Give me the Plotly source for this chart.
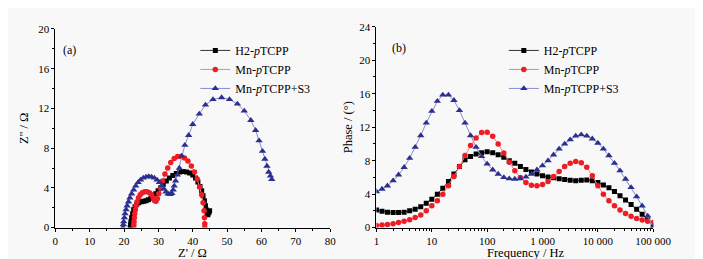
import plotly.graph_objects as go

# ---------------- data ----------------
series_names = ["H2-<i>p</i>TCPP", "Mn-<i>p</i>TCPP", "Mn-<i>p</i>TCPP+S3"]

# (a) Nyquist plot: Z' / Ohm, Z'' / Ohm
h2_zre = [21.8, 21.9, 22.0, 22.2, 22.5, 22.8, 23.2, 23.7, 24.3, 25.0, 25.7, 26.4, 27.1, 27.8,
          28.5, 29.2, 29.9, 30.6, 31.4, 32.3, 33.2, 34.2, 35.2, 36.2, 37.2, 38.2, 39.1, 40.0,
          40.8, 41.5, 42.1, 42.6, 43.0, 43.4, 43.7, 43.9, 44.1, 44.4, 44.7, 44.9]
h2_zim = [0.0, 0.3, 0.6, 1.0, 1.4, 1.8, 2.1, 2.35, 2.5, 2.6, 2.65, 2.7, 2.8, 2.95,
          3.15, 3.4, 3.7, 4.0, 4.35, 4.7, 5.0, 5.25, 5.45, 5.6, 5.65, 5.6, 5.5, 5.3,
          5.0, 4.6, 4.15, 3.7, 3.2, 2.7, 2.2, 1.8, 1.4, 1.3, 1.5, 1.7]

mn_zre = [22.8, 22.85, 22.9, 23.0, 23.1, 23.3, 23.5, 23.8, 24.2, 24.7, 25.3, 26.0, 26.7, 27.4,
          28.0, 28.5, 28.9, 29.3, 29.7, 30.1, 30.6, 31.2, 31.9, 32.7, 33.6, 34.6, 35.6, 36.6,
          37.6, 38.6, 39.6, 40.5, 41.3, 42.0, 42.6, 43.0, 43.3, 43.4, 43.5, 43.5]
mn_zim = [0.0, 0.3, 0.6, 1.0, 1.4, 1.8, 2.2, 2.6, 3.0, 3.3, 3.5, 3.6, 3.6, 3.5,
          3.3, 3.0, 2.7, 2.65, 2.9, 3.4, 4.0, 4.7, 5.4, 6.0, 6.55, 6.95, 7.15, 7.15,
          7.0, 6.7, 6.2, 5.6, 4.9, 4.1, 3.3, 2.5, 1.7, 1.0, 0.4, 0.0]

s3_zre = [19.7, 19.8, 19.9, 20.1, 20.3, 20.6, 20.9, 21.3, 21.7, 22.2, 22.8, 23.4, 24.1, 24.8,
          25.6, 26.4, 27.2, 28.0, 28.8, 29.6, 30.3, 31.0, 31.6, 32.2, 32.8, 33.4, 33.9, 34.3,
          34.6, 35.0, 35.5, 36.1, 36.8, 37.7, 38.8, 40.0, 41.9, 43.7, 45.9, 48.4, 50.7, 53.0,
          55.0, 56.9, 58.3, 59.3, 60.3, 61.0, 61.6, 62.1, 62.6, 63.0]
s3_zim = [0.0, 0.3, 0.6, 1.0, 1.4, 1.8, 2.2, 2.6, 3.0, 3.4, 3.8, 4.2, 4.55, 4.8,
          5.0, 5.1, 5.15, 5.1, 5.0, 4.8, 4.55, 4.25, 3.9, 3.6, 3.4, 3.35, 3.45, 3.8,
          4.2, 4.7, 5.3, 6.0, 7.2, 8.3, 9.3, 10.4, 11.45, 12.35, 12.9, 13.1, 12.9, 12.45,
          11.75, 10.8, 9.8, 8.75, 7.7, 6.9, 6.2, 5.6, 5.2, 4.85]

# (b) Bode phase plot
freq_hz = [1, 1.26, 1.58, 2, 2.51, 3.16, 3.98, 5.01, 6.31, 7.94,
           10, 12.6, 15.8, 20, 25.1, 31.6, 39.8, 50.1, 63.1, 79.4,
           100, 126, 158, 200, 251, 316, 398, 501, 631, 794,
           1000, 1259, 1585, 1995, 2512, 3162, 3981, 5012, 6310, 7943,
           10000, 12589, 15849, 19953, 25119, 31623, 39811, 50119, 63096, 79433,
           100000]
h2_phase = [2.1, 1.95, 1.85, 1.8, 1.8, 1.85, 2.0, 2.2, 2.5, 2.9,
            3.4, 4.0, 4.7, 5.5, 6.4, 7.3, 8.1, 8.5, 8.8, 8.95,
            9.05, 8.95, 8.7, 8.4, 8.0, 7.7, 7.3, 6.95, 6.65, 6.4,
            6.2, 6.05, 5.95, 5.85, 5.75, 5.65, 5.6, 5.65, 5.7, 5.6,
            5.4, 5.1, 4.75, 4.3, 3.8, 3.3, 2.75, 2.2, 1.6, 0.9,
            0.3]
mn_phase = [0.25, 0.3, 0.38, 0.47, 0.6, 0.75, 0.95, 1.2, 1.5, 2.0,
            2.6, 3.2, 4.0, 5.0, 6.1, 7.3, 8.6, 9.8, 10.7, 11.35,
            11.4, 10.9, 10.0, 8.9, 7.8, 6.8, 6.0, 5.4, 5.05, 5.0,
            5.15, 5.5, 6.1, 6.7, 7.3, 7.7, 7.9, 7.75, 7.2, 6.2,
            5.0, 4.0, 3.2, 2.6, 2.1, 1.7, 1.35, 1.1, 0.9, 0.75,
            0.6]
s3_phase = [4.3, 4.6, 5.0, 5.6, 6.3, 7.2, 8.3, 9.6, 11.0, 12.5,
            13.9, 15.1, 15.85, 15.85, 15.2, 14.0, 12.5, 11.0, 9.6, 8.5,
            7.6, 6.9, 6.4, 6.0, 5.85, 5.8, 5.85, 6.05, 6.4, 6.9,
            7.4, 8.0, 8.7, 9.4, 10.0, 10.5, 10.95, 11.1, 10.95, 10.6,
            10.1, 9.4, 8.6, 7.7, 6.8, 5.8, 4.8, 3.7, 2.6, 1.4,
            0.1]

x_tick_vals_b = [1, 10, 100, 1000, 10000, 100000]
x_tick_text_b = ["1", "10", "100", "1 000", "10 000", "100 000"]

# ---------------- styles ----------------
FONT = "Liberation Serif"
styles = [
    dict(line=dict(color="#333333", width=1), marker=dict(symbol="square", size=5, color="black")),
    dict(line=dict(color="#ff7a7a", width=1), marker=dict(symbol="circle", size=5.5, color="#ee1c24")),
    dict(line=dict(color="#8a8ad0", width=1), marker=dict(symbol="triangle-up", size=6.5, color="#2b2f8f")),
]

fig = go.Figure()
nyq = [(h2_zre, h2_zim), (mn_zre, mn_zim), (s3_zre, s3_zim)]
for name, (xr, yi), st in zip(series_names, nyq, styles):
    fig.add_trace(go.Scatter(x=xr, y=yi, mode="lines+markers", name=name,
                             line=st["line"], marker=st["marker"],
                             xaxis="x", yaxis="y", legend="legend"))
bode = [h2_phase, mn_phase, s3_phase]
for name, ph, st in zip(series_names, bode, styles):
    fig.add_trace(go.Scatter(x=freq_hz, y=ph, mode="lines+markers", name=name,
                             line=st["line"], marker=st["marker"],
                             xaxis="x2", yaxis="y2", legend="legend2"))

W, H = 703, 259
axis_common = dict(showline=True, linecolor="black", linewidth=1, ticks="outside",
                   ticklen=3, tickcolor="black", showgrid=False, zeroline=False,
                   tickfont=dict(family=FONT, size=11, color="black"),
                   title_font=dict(family=FONT, size=12.5, color="black"),
                   mirror=False)

title_font = dict(family=FONT, size=12.5, color="black")
bg = "#f8f8f8"
fig.update_layout(
    width=W, height=H,
    margin=dict(l=0, r=0, t=0, b=0),
    paper_bgcolor=bg, plot_bgcolor=bg,
    font=dict(family=FONT, color="black"),
    xaxis=dict(axis_common, domain=[45.7 / W, 329 / W], range=[0, 80], dtick=10,
               minor=dict(ticks="outside", ticklen=2, dtick=5, tickcolor="black"),
               anchor="y"),
    yaxis=dict(axis_common, domain=[(H - 224) / H, (H - 15.7) / H], range=[0, 20], dtick=4,
               minor=dict(ticks="outside", ticklen=2, dtick=2, tickcolor="black"),
               title=dict(text="Z'' / Ω", standoff=6), anchor="x"),
    xaxis2=dict(axis_common, type="log", domain=[376.7 / W, 662 / W], range=[0, 5],
                tickvals=x_tick_vals_b, ticktext=x_tick_text_b,
                minor=dict(ticks="outside", ticklen=2, dtick="D1", tickcolor="black"),
                anchor="y2"),
    yaxis2=dict(axis_common, domain=[(H - 224) / H, (H - 13.3) / H], range=[0, 24], dtick=4,
                minor=dict(ticks="outside", ticklen=2, dtick=2, tickcolor="black"),
                title=dict(text="Phase / (°)", standoff=3), anchor="x2"),
    legend=dict(x=190 / W, y=(H - 23) / H, xanchor="left", yanchor="top",
                bgcolor="rgba(0,0,0,0)", font=dict(family=FONT, size=12),
                itemwidth=30, tracegroupgap=0),
    legend2=dict(x=508 / W, y=(H - 23) / H, xanchor="left", yanchor="top",
                 bgcolor="rgba(0,0,0,0)", font=dict(family=FONT, size=12),
                 itemwidth=30, tracegroupgap=0),
    annotations=[
        dict(text="(a)", x=0.02, y=0.94, xref="x domain", yref="y domain",
             showarrow=False, xanchor="left", yanchor="top",
             font=dict(family=FONT, size=12, color="black")),
        dict(text="(b)", x=0.05, y=0.94, xref="x2 domain", yref="y2 domain",
             showarrow=False, xanchor="left", yanchor="top",
             font=dict(family=FONT, size=12, color="black")),
        dict(text="Z' / Ω", x=0.5, y=(H - 251) / H, xref="x domain", yref="paper",
             showarrow=False, xanchor="center", yanchor="middle", font=title_font),
        dict(text="Frequency / Hz", x=0.54, y=(H - 251) / H, xref="x2 domain", yref="paper",
             showarrow=False, xanchor="center", yanchor="middle", font=title_font),
    ],
)

fig.write_html("out.html")
